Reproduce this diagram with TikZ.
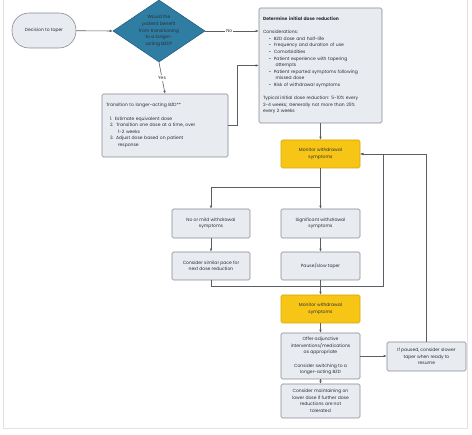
\documentclass[tikz,border=0pt]{standalone}
\usepackage{fontspec}
\setmainfont{Poppins}
\usetikzlibrary{shapes.geometric,arrows.meta}
\definecolor{boxfill}{HTML}{E8EBF0}
\definecolor{boxline}{HTML}{858A94}
\definecolor{dfill}{HTML}{2F7DA3}
\definecolor{dline}{HTML}{245F80}
\definecolor{yfill}{HTML}{F7C516}
\definecolor{yline}{HTML}{D9A300}
\definecolor{conn}{HTML}{5A5E66}
\definecolor{txt}{HTML}{2A2E36}
\definecolor{frame}{HTML}{E2E2E2}
\begin{document}
\begin{tikzpicture}[x=1pt,y=-1pt,
  every node/.style={font=\fontsize{4.5}{6.6}\selectfont, text=txt},
  box/.style={draw=boxline, fill=boxfill, rounded corners=1.5pt, line width=0.6pt, inner sep=0pt, align=center},
  ybox/.style={draw=yline, fill=yfill, rounded corners=1.5pt, line width=0.6pt, inner sep=0pt, align=center, minimum width=79pt, minimum height=28pt},
  sbox/.style={box, minimum width=79pt, minimum height=29pt},
  conn/.style={draw=conn, line width=0.6pt},
  arr/.style={conn, -{Latex[length=3pt,width=2.6pt]}},
  lbl/.style={fill=white, inner sep=1pt}
]
\useasboundingbox (0,0) rectangle (472,435);
% page frame
\draw[frame, line width=0.8pt] (3,-2) -- (3,428) -- (467,428) -- (467,-2);

% nodes
\node[box, rounded corners=17pt, minimum width=64pt, minimum height=35pt] (start) at (44,30.5) {Decision to taper};
\node[diamond, draw=dline, fill=dfill, line width=0.6pt, minimum width=92pt, minimum height=62pt, inner sep=0pt] (dia) at (159,31) {};
\node[align=center, text=txt] (diatext) at (dia.center) {Would the\\patient benefit\\from transitioning\\to a longer-\\acting BZD?};

\node[box, minimum width=126pt, minimum height=63pt, text width=118pt, align=left] (trans) at (165,125.5) {Transition to longer-acting BZD**\\[6.6pt]
\hspace*{4pt}1.\hspace{2.5pt}Estimate equivalent dose\\
\hspace*{4pt}2.\hspace{2.5pt}Transition one dose at a time, over\\
\hspace*{12pt}1-2 weeks\\
\hspace*{4pt}3.\hspace{2.5pt}Adjust dose based on patient\\
\hspace*{12pt}response};

\node[box, minimum width=123pt, minimum height=115pt, text width=115pt, align=left] (det) at (320.5,65.5) {\textbf{Determine initial dose reduction}\\[6.6pt]
Considerations:\\
\hspace*{6pt}\textbullet\hspace{3pt}BZD dose and half-life\\
\hspace*{6pt}\textbullet\hspace{3pt}Frequency and duration of use\\
\hspace*{6pt}\textbullet\hspace{3pt}Comorbidities\\
\hspace*{6pt}\textbullet\hspace{3pt}Patient experience with tapering\\
\hspace*{12.5pt}attempts\\
\hspace*{6pt}\textbullet\hspace{3pt}Patient reported symptoms following\\
\hspace*{12.5pt}missed dose\\
\hspace*{6pt}\textbullet\hspace{3pt}Risk of withdrawal symptoms\\[6.6pt]
Typical initial dose reduction: 5-10\% every\\
2-4 weeks; Generally not more than 25\%\\
every 2 weeks};

\node[ybox] (mon1) at (320.5,154) {Monitor withdrawal\\symptoms};
\node[sbox, minimum width=78pt] (mild) at (211,223.5) {No or mild withdrawal\\symptoms};
\node[sbox] (sig) at (320.5,223.5) {Significant withdrawal\\symptoms};
\node[sbox, minimum width=78pt, minimum height=28pt] (sim) at (211,266) {Consider similar pace for\\next dose reduction};
\node[sbox, minimum height=28pt] (pause) at (320.5,266) {Pause/slow taper};
\node[ybox] (mon2) at (320.5,309) {Monitor withdrawal\\symptoms};
\node[box, minimum width=79pt, minimum height=46pt] (offer) at (320.5,356) {Offer adjunctive\\interventions/medications\\as appropriate\\[6.6pt]Consider switching to a\\longer-acting BZD};
\node[box, minimum width=79pt, minimum height=34pt] (maint) at (320.5,401) {Consider maintaining on\\lower dose if further dose\\reductions are not\\tolerated};
\node[sbox] (paused) at (426.5,356.5) {If paused, consider slower\\taper when ready to\\resume};

% coordinates
\coordinate (br) at (320.5,187);
\coordinate (ja) at (211,286);
\coordinate (jb) at (383,286);
\coordinate (jc) at (383,154);
\coordinate (ta) at (237,125.5);
\coordinate (pa) at (426.5,154);

% connectors
\draw[arr] (start) -- (dia.west);
\draw[arr] (dia.east) -- node[lbl, pos=0.45] {No} (dia.east -| det.west);
\draw[arr] (dia.south) -- node[lbl, pos=0.5] {Yes} (trans.north);
\draw[arr] (trans.east) -- (ta) |- (det.west);
\draw[arr] (det.south) -- (mon1.north);
\draw[conn] (mon1.south) -- (br);
\draw[arr] (br) -| (mild.north);
\draw[arr] (br) -- (sig.north);
\draw[arr] (mild.south) -- (sim.north);
\draw[arr] (sig.south) -- (pause.north);
\draw[arr] (sim.south) -- (ja) -- (jb) -- (jc) -- (mon1.east);
\draw[arr] (pause.south) -- (mon2.north);
\draw[arr] (mon2.south) -- (offer.north);
\draw[arr] (offer.south) -- (maint.north);
\draw[arr] (offer.east) -- (offer.east -| paused.west);
\draw[arr] (paused.north) -- (pa) -- (mon1.east);
\end{tikzpicture}
\end{document}
